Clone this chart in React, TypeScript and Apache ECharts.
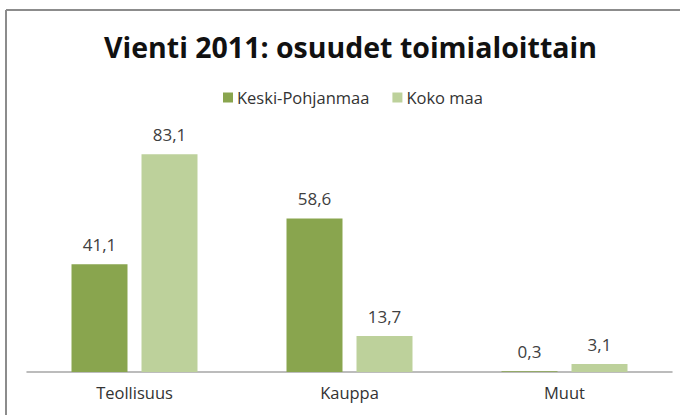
import React, { useEffect, useRef } from "react";
import * as echarts from "echarts";

const categories = ["Teollisuus", "Kauppa", "Muut"];
const seriesNames = ["Keski-Pohjanmaa", "Koko maa"];
const keskiPohjanmaa = [41.1, 58.6, 0.3];
const kokoMaa = [83.1, 13.7, 3.1];
const titleText = "Vienti 2011: osuudet toimialoittain";

const fmt = (v: number) => v.toFixed(1).replace(".", ",");

export default function App() {
  const ref = useRef<HTMLDivElement>(null);
  useEffect(() => {
    if (!ref.current) return;
    const chart = echarts.init(ref.current, null, { renderer: "svg" });
    const labelStyle = {
      show: true,
      position: "top" as const,
      distance: 11,
      fontFamily: "Open Sans",
      fontSize: 17,
      color: "#404040",
      formatter: (p: any) => fmt(p.value),
    };
    chart.setOption({
      animation: false,
      backgroundColor: "#ffffff",
      title: {
        text: titleText,
        left: 99,
        top: 27,
        textStyle: {
          fontFamily: "Open Sans",
          fontWeight: 700,
          fontSize: 28.5,
          color: "#111111",
        },
      },
      legend: {
        data: seriesNames,
        top: 84,
        left: 218,
        itemWidth: 10,
        itemHeight: 10,
        itemGap: 23,
        icon: "rect",
        textStyle: { fontFamily: "Open Sans", fontSize: 16.5, color: "#333333", padding: [0, 0, 0, -1] },
      },
      grid: { left: 27, right: 8, top: 110, bottom: 43 },
      xAxis: {
        type: "category",
        data: categories,
        axisLine: { lineStyle: { color: "#a6a6a6", width: 1.5 } },
        axisTick: { show: false },
        axisLabel: { fontFamily: "Open Sans", fontSize: 16.5, color: "#333333", margin: 12 },
      },
      yAxis: {
        type: "value",
        min: 0,
        max: 100,
        show: false,
        splitLine: { show: false },
      },
      series: [
        {
          name: seriesNames[0],
          type: "bar",
          data: keskiPohjanmaa,
          barWidth: 56,
          barGap: "25%",
          itemStyle: { color: "#89a54e" },
          label: labelStyle,
        },
        {
          name: seriesNames[1],
          type: "bar",
          data: kokoMaa,
          barWidth: 56,
          itemStyle: { color: "#bdd19b" },
          label: labelStyle,
        },
      ],
      graphic: [
        {
          type: "line",
          shape: { x1: 6, y1: 10, x2: 680, y2: 10 },
          style: { stroke: "#8c8c8c", lineWidth: 2 },
        },
        {
          type: "line",
          shape: { x1: 6, y1: 10, x2: 6, y2: 415 },
          style: { stroke: "#8c8c8c", lineWidth: 2 },
        },
      ],
    });
    return () => chart.dispose();
  }, []);
  return (
    <div
      ref={ref}
      style={{ position: "absolute", left: 0, top: 0, width: 680, height: 415 }}
    />
  );
}
